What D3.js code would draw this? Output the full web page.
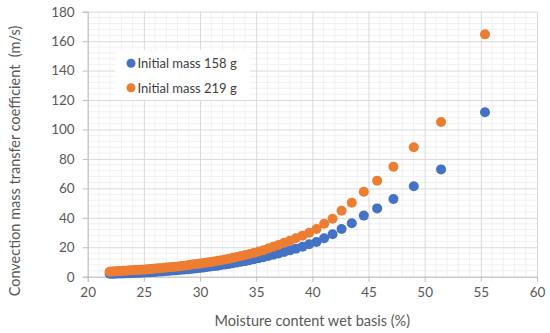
<!DOCTYPE html>
<html>
<head>
<meta charset="utf-8">
<script src="https://cdn.jsdelivr.net/npm/d3@7"></script>
<style>
  body { margin: 0; background: #fff; }
  svg { font-family: Lato, "Open Sans", sans-serif; }
</style>
</head>
<body>
<div class="chart"></div>
<script>
// moisture content (%) - shared by both series
const moisture = [
  55.37, 51.46, 49.03, 47.22, 45.77, 44.58, 43.51, 42.6, 41.8, 41.05,
  40.37, 39.72, 39.12, 38.53, 38.0, 37.49, 37.0, 36.53, 36.08, 35.64,
  35.22, 34.81, 34.41, 34.03, 33.65, 33.29, 32.93, 32.58, 32.24, 31.91,
  31.58, 31.26, 30.95, 30.64, 30.34, 30.04, 29.75, 29.46, 29.18, 28.9,
  28.62, 28.35, 28.08, 27.82, 27.56, 27.3, 27.05, 26.8, 26.55, 26.31,
  26.07, 25.83, 25.59, 25.36, 25.13, 24.9, 24.68, 24.46, 24.24, 24.02,
  23.8, 23.59, 23.38, 23.17, 22.96, 22.75, 22.55, 22.35, 22.15, 21.95
];
const mass158 = [
  111.7, 72.9, 61.4, 52.8, 46.4, 41.5, 36.3, 32.4, 28.8, 26.1,
  23.6, 22.0, 20.4, 19.0, 17.9, 16.8, 15.8, 14.9, 14.0, 13.2,
  12.5, 11.8, 11.2, 10.6, 10.1, 9.6, 9.1, 8.7, 8.3, 7.9,
  7.5, 7.2, 6.9, 6.6, 6.3, 6.0, 5.8, 5.5, 5.3, 5.1,
  4.9, 4.7, 4.5, 4.3, 4.2, 4.0, 3.9, 3.7, 3.6, 3.5,
  3.3, 3.2, 3.1, 3.0, 2.9, 2.8, 2.7, 2.6, 2.5, 2.45,
  2.4, 2.35, 2.3, 2.25, 2.2, 2.15, 2.1, 2.05, 2.0, 1.95
];
const mass219 = [
  164.6, 105.1, 87.9, 74.7, 65.2, 57.7, 50.3, 44.8, 39.4, 36.0,
  32.4, 29.9, 27.9, 26.1, 24.5, 23.0, 21.6, 20.3, 19.1, 18.0,
  17.1, 16.2, 15.4, 14.7, 14.0, 13.4, 12.8, 12.2, 11.7, 11.2,
  10.8, 10.4, 10.0, 9.6, 9.3, 9.0, 8.7, 8.4, 8.1, 7.8,
  7.5, 7.3, 7.0, 6.8, 6.6, 6.4, 6.2, 6.0, 5.8, 5.7,
  5.5, 5.4, 5.2, 5.1, 4.9, 4.8, 4.7, 4.6, 4.5, 4.4,
  4.3, 4.2, 4.1, 4.0, 3.9, 3.8, 3.7, 3.6, 3.5, 3.4
];
const seriesNames = ["Initial mass 158 g", "Initial mass 219 g"];
const seriesColors = ["#4472C4", "#ED7D31"];
const xTicks = [20, 25, 30, 35, 40, 45, 50, 55, 60];
const yTicks = [0, 20, 40, 60, 80, 100, 120, 140, 160, 180];

const width = 550;
const height = 333;
const plotLeft = 87.7, plotRight = 537, plotTop = 11.7, plotBottom = 276.7;

const svg = d3
  .select(".chart")
  .append("svg")
  .attr("width", width)
  .attr("height", height);

const x = d3.scaleLinear().domain([20, 60]).range([plotLeft, plotRight]);
const y = d3.scaleLinear().domain([0, 180]).range([plotBottom, plotTop]);

// minor grid
svg.append("g")
  .selectAll("line")
  .data(d3.range(20, 61, 1).filter(v => v % 5 !== 0))
  .join("line")
  .attr("x1", d => x(d)).attr("x2", d => x(d))
  .attr("y1", plotTop).attr("y2", plotBottom)
  .attr("stroke", "#f0f0f0");
svg.append("g")
  .selectAll("line")
  .data(d3.range(0, 181, 4).filter(v => v % 20 !== 0))
  .join("line")
  .attr("x1", plotLeft).attr("x2", plotRight)
  .attr("y1", d => y(d)).attr("y2", d => y(d))
  .attr("stroke", "#f0f0f0");

// major grid
svg.append("g")
  .attr("transform", `translate(0,${plotBottom})`)
  .call(d3.axisBottom(x).tickValues(xTicks).tickSize(-(plotBottom - plotTop)).tickFormat(""))
  .call(g => g.select(".domain").remove())
  .call(g => g.selectAll("line").attr("stroke", "#d9d9d9"));
svg.append("g")
  .attr("transform", `translate(${plotLeft},0)`)
  .call(d3.axisLeft(y).tickValues(yTicks).tickSize(-(plotRight - plotLeft)).tickFormat(""))
  .call(g => g.select(".domain").remove())
  .call(g => g.selectAll("line").attr("stroke", "#d9d9d9"));

// axes
const xAxis = svg.append("g")
  .attr("transform", `translate(0,${plotBottom})`)
  .call(d3.axisBottom(x).tickValues(xTicks).tickSize(5).tickPadding(6));
const yAxis = svg.append("g")
  .attr("transform", `translate(${plotLeft},0)`)
  .call(d3.axisLeft(y).tickValues(yTicks).tickSize(5).tickPadding(8));
[xAxis, yAxis].forEach(g => {
  g.select(".domain").attr("stroke", "#bfbfbf");
  g.selectAll(".tick line").attr("stroke", "#bfbfbf");
  g.selectAll("text")
    .attr("fill", "#595959")
    .style("font-size", "13.5px")
    .style("font-family", "Lato, sans-serif");
});

// points
[mass158, mass219].forEach((vals, s) => {
  svg.append("g")
    .selectAll("circle")
    .data(vals)
    .join("circle")
    .attr("cx", (d, i) => x(moisture[i]))
    .attr("cy", d => y(d))
    .attr("r", 5)
    .attr("fill", seriesColors[s]);
});

// axis titles
svg.append("text")
  .attr("x", (plotLeft + plotRight) / 2)
  .attr("y", 326)
  .attr("text-anchor", "middle")
  .attr("fill", "#595959")
  .style("font-size", "14.5px")
  .text("Moisture content wet basis (%)");
svg.append("text")
  .attr("transform", "rotate(-90)")
  .attr("x", -161)
  .attr("y", 20)
  .attr("text-anchor", "middle")
  .attr("fill", "#595959")
  .style("font-size", "14.5px")
  .style("white-space", "pre")
  .text("Convection mass transfer coefficient  (m/s)");

// legend
const legend = svg.append("g");
legend.append("rect")
  .attr("x", 115).attr("y", 50)
  .attr("width", 135).attr("height", 50)
  .attr("fill", "#fff");
seriesNames.forEach((name, i) => {
  legend.append("circle")
    .attr("cx", 131).attr("cy", 63.3 + i * 24.4)
    .attr("r", 4.5)
    .attr("fill", seriesColors[i]);
  legend.append("text")
    .attr("x", 137.5).attr("y", 63.3 + i * 24.4 + 4.8)
    .attr("fill", "#404040")
    .style("font-size", "13px")
    .text(name);
});
</script>
</body>
</html>
